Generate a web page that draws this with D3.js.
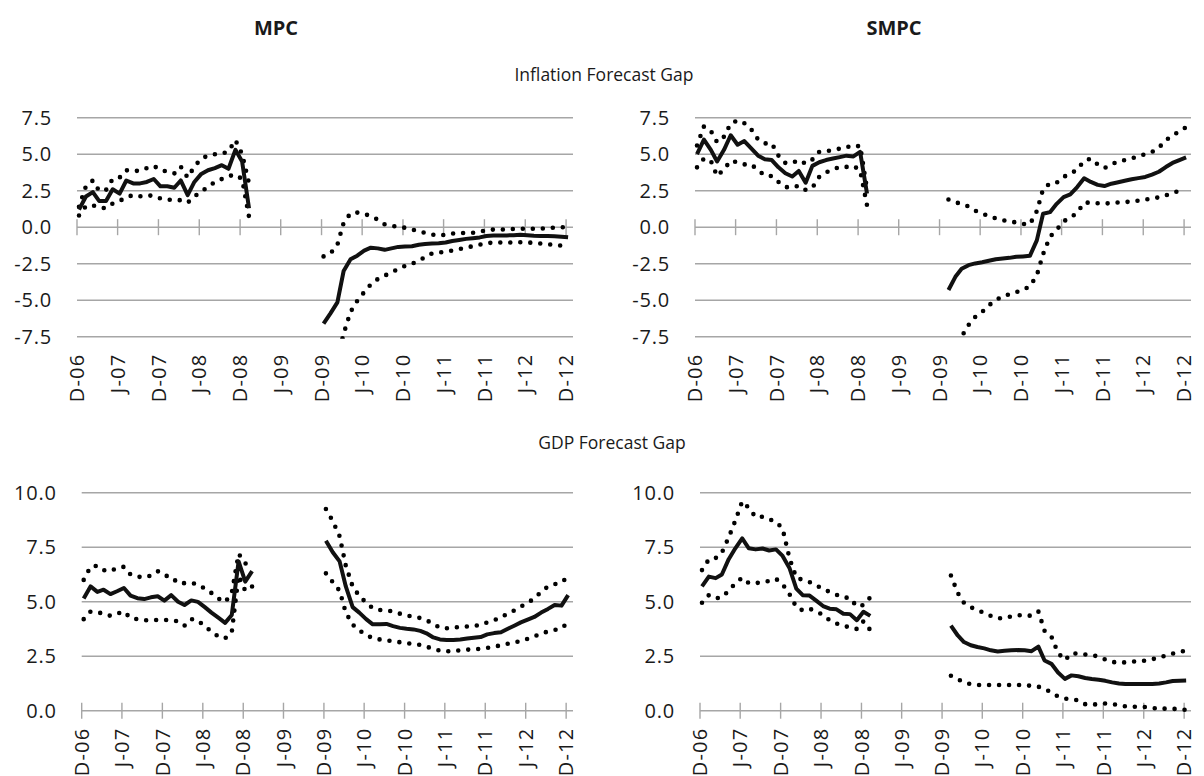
<!DOCTYPE html>
<html>
<head>
<meta charset="utf-8">
<script src="https://cdn.jsdelivr.net/npm/d3@7"></script>
<style>
  body { margin: 0; background: #fff; }
  svg text { font-family: "Open Sans", sans-serif; fill: #1a1a1a; }
</style>
</head>
<body>
<svg id="chart" width="1204" height="776"></svg>
<script>
// monthly observations, Dec 2006 .. Dec 2012 (gap between the two committees' sample periods)
const START = new Date(2006, 11, 1);
const END = new Date(2013, 0, 1);
const months = d3.range(73).map(i => new Date(2006, 11 + i, 10));
const tickLabels = ['D-06', 'J-07', 'D-07', 'J-08', 'D-08', 'J-09', 'D-09',
  'J-10', 'D-10', 'J-11', 'D-11', 'J-12', 'D-12'];
const inflTicks = [-7.5, -5, -2.5, 0, 2.5, 5, 7.5];
const gdpTicks = [0, 2.5, 5, 7.5, 10];

const gap = n => Array(n).fill(null);

// Inflation forecast gap, MPC
const mpcInflMid = [1.2, 2.1, 2.4, 1.8, 1.8, 2.6, 2.3, 3.2, 3.0, 3.0, 3.1, 3.3, 2.8, 2.8, 2.7, 3.2, 2.2, 3.1, 3.65, 3.9, 4.05, 4.25, 4.0, 5.3, 4.5, 1.3,
  ...gap(10),
  -6.6, -5.9, -5.15, -3.0, -2.2, -1.95, -1.6, -1.4, -1.45, -1.55, -1.45, -1.35, -1.32, -1.3, -1.2, -1.15, -1.12, -1.1, -1.05, -0.95,
  -0.88, -0.8, -0.75, -0.7, -0.6, -0.57, -0.57, -0.56, -0.55, -0.52, -0.55, -0.58, -0.6, -0.6, -0.62, -0.65, -0.69];
const mpcInflUp = [1.4, 2.8, 3.2, 2.5, 2.55, 3.3, 3.4, 3.9, 3.85, 3.87, 4.05, 4.2, 3.92, 3.8, 3.68, 4.15, 3.4, 4.15, 4.7, 4.9, 5.0, 5.03, 5.2, 5.97, 5.0, 3.0,
  ...gap(10),
  -2.0, -1.8, -1.2, 0.3, 0.95, 1.0, 0.92, 0.75, 0.52, 0.19, 0.1, 0.03, -0.04, -0.15, -0.3, -0.38, -0.5, -0.57, -0.52, -0.43,
  -0.4, -0.39, -0.38, -0.3, -0.22, -0.16, -0.16, -0.15, -0.12, -0.11, -0.11, -0.11, -0.09, -0.07, -0.03, 0.0, 0.0];
const mpcInflLo = [0.8, 1.45, 1.5, 1.35, 1.3, 1.62, 1.8, 2.05, 2.2, 2.12, 2.18, 2.15, 1.97, 1.88, 1.87, 1.85, 1.68, 2.1, 2.45, 2.75, 3.1, 3.3, 3.5, 3.6, 3.3, 0.7,
  ...gap(10),
  -11.5, -10.2, -9.0, -7.3, -5.8, -5.05, -4.45, -3.92, -3.55, -3.32, -3.08, -2.88, -2.65, -2.5, -2.3, -2.05, -1.8, -1.73, -1.68, -1.6,
  -1.5, -1.4, -1.3, -1.2, -1.1, -1.05, -1.05, -1.05, -1.04, -1.03, -1.04, -1.08, -1.12, -1.17, -1.2, -1.26, -1.3];

// Inflation forecast gap, SMPC
const smpcInflMid = [5.0, 6.0, 5.3, 4.5, 5.3, 6.3, 5.65, 5.9, 5.4, 4.9, 4.65, 4.6, 4.1, 3.7, 3.47, 3.85, 3.05, 4.2, 4.45, 4.6, 4.7, 4.8, 4.9, 4.85, 5.16, 2.3,
  ...gap(11),
  -4.3, -3.4, -2.85, -2.6, -2.48, -2.4, -2.3, -2.2, -2.15, -2.1, -2.03, -2.0, -1.96, -0.9, 0.92, 1.03, 1.6, 2.06, 2.25, 2.75,
  3.35, 3.1, 2.9, 2.82, 2.98, 3.08, 3.18, 3.28, 3.36, 3.44, 3.6, 3.8, 4.12, 4.4, 4.6, 4.78];
const smpcInflUp = [5.6, 6.9, 6.6, 5.82, 6.2, 7.1, 7.32, 7.12, 6.7, 6.0, 5.74, 5.74, 4.9, 4.4, 4.4, 4.6, 4.35, 4.64, 5.17, 5.21, 5.28, 5.38, 5.53, 5.45, 5.6, 2.6,
  ...gap(11),
  1.9, 1.72, 1.58, 1.42, 1.13, 0.92, 0.78, 0.6, 0.48, 0.41, 0.32, 0.22, 0.2, 1.1, 2.6, 3.0, 3.05, 3.45, 3.65, 3.95,
  4.55, 4.7, 4.3, 4.05, 4.3, 4.5, 4.6, 4.72, 4.85, 5.0, 5.15, 5.45, 5.95, 6.3, 6.55, 6.85];
const smpcInflLo = [4.1, 4.7, 4.55, 3.5, 3.97, 4.55, 4.45, 4.3, 4.3, 3.9, 3.55, 3.5, 3.1, 2.75, 2.72, 2.85, 2.55, 2.7, 3.45, 3.75, 3.95, 4.13, 4.13, 4.2, 3.9, 1.5,
  ...gap(11),
  -9.8, -8.6, -7.5, -6.7, -6.15, -5.8, -5.35, -5.0, -4.73, -4.6, -4.45, -4.29, -4.05, -3.3, -1.85, -0.65, -0.18, 0.41, 0.64, 1.0,
  1.68, 1.68, 1.64, 1.62, 1.65, 1.7, 1.72, 1.76, 1.82, 1.9, 1.96, 2.05, 2.18, 2.35, 2.48, 2.57];

// GDP forecast gap, MPC
const mpcGdpMid = [5.15, 5.7, 5.45, 5.55, 5.35, 5.48, 5.63, 5.28, 5.16, 5.12, 5.2, 5.25, 5.05, 5.3, 5.0, 4.85, 5.06, 4.99, 4.75, 4.5, 4.27, 4.03, 4.39, 6.85, 5.92, 6.4,
  ...gap(10),
  7.8, 7.27, 6.85, 5.7, 4.75, 4.5, 4.2, 3.96, 3.97, 3.98, 3.88, 3.8, 3.76, 3.73, 3.66, 3.55, 3.36, 3.27, 3.24, 3.24,
  3.27, 3.31, 3.35, 3.38, 3.5, 3.56, 3.6, 3.75, 3.9, 4.05, 4.18, 4.3, 4.5, 4.67, 4.85, 4.82, 5.3];
const mpcGdpUp = [6.0, 6.6, 6.65, 6.45, 6.4, 6.55, 6.6, 6.25, 6.15, 6.12, 6.2, 6.4, 6.2, 6.15, 5.85, 5.85, 5.86, 5.8, 5.6, 5.4, 5.15, 4.98, 5.4, 7.2, 6.75, 6.85,
  ...gap(10),
  9.25, 8.7, 8.0, 6.65, 5.7, 5.26, 4.96, 4.7, 4.62, 4.6, 4.55, 4.45, 4.36, 4.32, 4.25, 4.15, 3.98, 3.8, 3.78, 3.82,
  3.84, 3.86, 3.89, 3.93, 4.05, 4.15, 4.28, 4.45, 4.6, 4.78, 4.95, 5.15, 5.45, 5.7, 5.8, 5.88, 6.15];
const mpcGdpLo = [4.2, 4.55, 4.5, 4.47, 4.35, 4.45, 4.55, 4.25, 4.2, 4.15, 4.15, 4.16, 4.16, 4.15, 4.1, 3.9, 4.2, 4.15, 3.85, 3.65, 3.4, 3.32, 3.6, 6.2, 5.5, 5.7,
  ...gap(10),
  6.3, 5.9, 5.5, 4.5, 3.95, 3.68, 3.48, 3.32, 3.27, 3.23, 3.18, 3.14, 3.1, 3.06, 3.02, 2.93, 2.85, 2.75, 2.72, 2.74,
  2.77, 2.8, 2.82, 2.84, 2.88, 2.94, 3.0, 3.07, 3.13, 3.2, 3.3, 3.4, 3.55, 3.63, 3.7, 3.78, 4.05];

// GDP forecast gap, SMPC
const smpcGdpMid = [5.7, 6.15, 6.08, 6.25, 6.95, 7.45, 7.9, 7.45, 7.4, 7.44, 7.35, 7.4, 7.1, 6.55, 5.6, 5.3, 5.28, 5.05, 4.8, 4.68, 4.65, 4.45, 4.43, 4.15, 4.54, 4.35,
  ...gap(11),
  3.9, 3.45, 3.15, 3.0, 2.92, 2.86, 2.77, 2.72, 2.75, 2.77, 2.78, 2.77, 2.73, 2.94, 2.3, 2.15, 1.75, 1.46, 1.62, 1.58,
  1.5, 1.45, 1.42, 1.37, 1.3, 1.25, 1.22, 1.22, 1.22, 1.22, 1.23, 1.25, 1.3, 1.36, 1.37, 1.38];
const smpcGdpUp = [6.45, 6.94, 7.0, 7.25, 7.95, 8.72, 9.6, 9.3, 8.88, 8.9, 8.78, 8.67, 8.35, 7.0, 6.1, 6.0, 5.9, 5.75, 5.58, 5.45, 5.32, 5.2, 5.17, 4.78, 4.85, 5.2,
  ...gap(11),
  6.2, 5.4, 4.95, 4.75, 4.6, 4.5, 4.35, 4.24, 4.24, 4.33, 4.38, 4.36, 4.36, 4.55, 3.67, 3.4, 2.65, 2.32, 2.63, 2.62,
  2.58, 2.55, 2.48, 2.35, 2.24, 2.2, 2.22, 2.25, 2.27, 2.3, 2.36, 2.44, 2.53, 2.62, 2.7, 2.75];
const smpcGdpLo = [4.95, 5.3, 5.15, 5.2, 5.5, 5.85, 6.1, 5.85, 5.85, 5.9, 5.95, 6.05, 5.8, 5.35, 4.75, 4.6, 4.68, 4.55, 4.4, 4.15, 4.0, 3.9, 3.82, 3.75, 4.1, 3.7,
  ...gap(11),
  1.6, 1.45, 1.3, 1.22, 1.18, 1.17, 1.18, 1.18, 1.18, 1.18, 1.18, 1.17, 1.14, 1.1, 1.0, 0.84, 0.65, 0.56, 0.52, 0.48,
  0.3, 0.27, 0.31, 0.33, 0.3, 0.26, 0.2, 0.18, 0.18, 0.17, 0.14, 0.07, 0.1, 0.09, 0.06, 0.04];

const GRID = '#a6a6a6';
const TICK = 8; // cross tick half-length

const svg = d3.select('#chart');

const panels = [
  { mid: mpcInflMid, up: mpcInflUp, lo: mpcInflLo, ticks: inflTicks, left: 77, right: 573, top: 117.7, bottom: 336.7 },
  { mid: smpcInflMid, up: smpcInflUp, lo: smpcInflLo, ticks: inflTicks, left: 695, right: 1191, top: 117.7, bottom: 336.7 },
  { mid: mpcGdpMid, up: mpcGdpUp, lo: mpcGdpLo, ticks: gdpTicks, left: 81.7, right: 573, top: 492.7, bottom: 710.7 },
  { mid: smpcGdpMid, up: smpcGdpUp, lo: smpcGdpLo, ticks: gdpTicks, left: 700, right: 1191, top: 492.7, bottom: 710.7 }
];

// headings
svg.append('text').attr('x', 276).attr('y', 35).attr('text-anchor', 'middle')
  .style('font-size', '20px').style('font-weight', 'bold').text('MPC');
svg.append('text').attr('x', 894).attr('y', 35).attr('text-anchor', 'middle')
  .style('font-size', '20px').style('font-weight', 'bold').text('SMPC');
svg.append('text').attr('x', 604).attr('y', 81).attr('text-anchor', 'middle')
  .style('font-size', '17.5px').text('Inflation Forecast Gap');
svg.append('text').attr('x', 612).attr('y', 449).attr('text-anchor', 'middle')
  .style('font-size', '17.5px').text('GDP Forecast Gap');

panels.forEach((p, k) => drawPanel(p, k));

function drawPanel(p, k) {
  const g = svg.append('g');
  const x = d3.scaleTime().domain([START, END]).range([p.left, p.right]);
  const y = d3.scaleLinear().domain(d3.extent(p.ticks)).range([p.bottom, p.top]);
  const tickDates = tickLabels.map((t, i) => d3.timeMonth.offset(START, 6 * i));

  // horizontal gridlines
  g.selectAll('.grid')
    .data(p.ticks.filter(t => t !== 0))
    .enter()
    .append('line')
    .attr('x1', p.left)
    .attr('x2', p.right)
    .attr('y1', d => y(d))
    .attr('y2', d => y(d))
    .attr('stroke', GRID)
    .attr('stroke-width', 1.4);

  // y tick labels (plain hyphen for negatives, as in the source)
  g.selectAll('.ylab')
    .data(p.ticks)
    .enter()
    .append('text')
    .attr('x', p.left - 25)
    .attr('y', d => y(d))
    .attr('dy', '0.36em')
    .attr('text-anchor', 'end')
    .style('font-size', '20px')
    .style('letter-spacing', '0.8px')
    .text(d => d.toFixed(1));

  // category axis sits on the zero line, with cross ticks
  const y0 = y(0);
  g.append('line')
    .attr('x1', p.left)
    .attr('x2', p.right)
    .attr('y1', y0)
    .attr('y2', y0)
    .attr('stroke', GRID)
    .attr('stroke-width', 1.4);
  g.selectAll('.xtick')
    .data(tickDates)
    .enter()
    .append('line')
    .attr('x1', d => x(d))
    .attr('x2', d => x(d))
    .attr('y1', y0 - TICK)
    .attr('y2', y0 + TICK)
    .attr('stroke', GRID)
    .attr('stroke-width', 1.4);

  // x labels at the low end of the plot, rotated
  g.selectAll('.xlab')
    .data(tickDates)
    .enter()
    .append('text')
    .attr('transform', d => `translate(${x(d)}, ${p.bottom + 17}) rotate(-90)`)
    .attr('dy', '0.36em')
    .attr('text-anchor', 'end')
    .style('font-size', '20px')
    .style('letter-spacing', '1.2px')
    .text((d, i) => tickLabels[i]);

  // clip to the plot area
  const clipId = 'clip' + k;
  svg.append('clipPath').attr('id', clipId)
    .append('rect')
    .attr('x', p.left - 5)
    .attr('y', p.top - 5)
    .attr('width', p.right - p.left + 10)
    .attr('height', p.bottom - p.top + 7);

  const line = d3.line()
    .defined(d => d.v != null)
    .x(d => x(d.date))
    .y(d => y(d.v));
  const rows = arr => months.map((date, i) => ({ date, v: arr[i] }));

  const lines = g.append('g').attr('clip-path', `url(#${clipId})`);
  [p.up, p.lo].forEach(arr => {
    lines.append('path')
      .attr('d', line(rows(arr)))
      .attr('fill', 'none')
      .attr('stroke', '#000')
      .attr('stroke-width', 4.6)
      .attr('stroke-linecap', 'round')
      .attr('stroke-dasharray', '0 10');
  });
  lines.append('path')
    .attr('d', line(rows(p.mid)))
    .attr('fill', 'none')
    .attr('stroke', '#111')
    .attr('stroke-width', 4)
    .attr('stroke-linejoin', 'round')
    .attr('stroke-linecap', 'butt');
}
</script>
</body>
</html>
